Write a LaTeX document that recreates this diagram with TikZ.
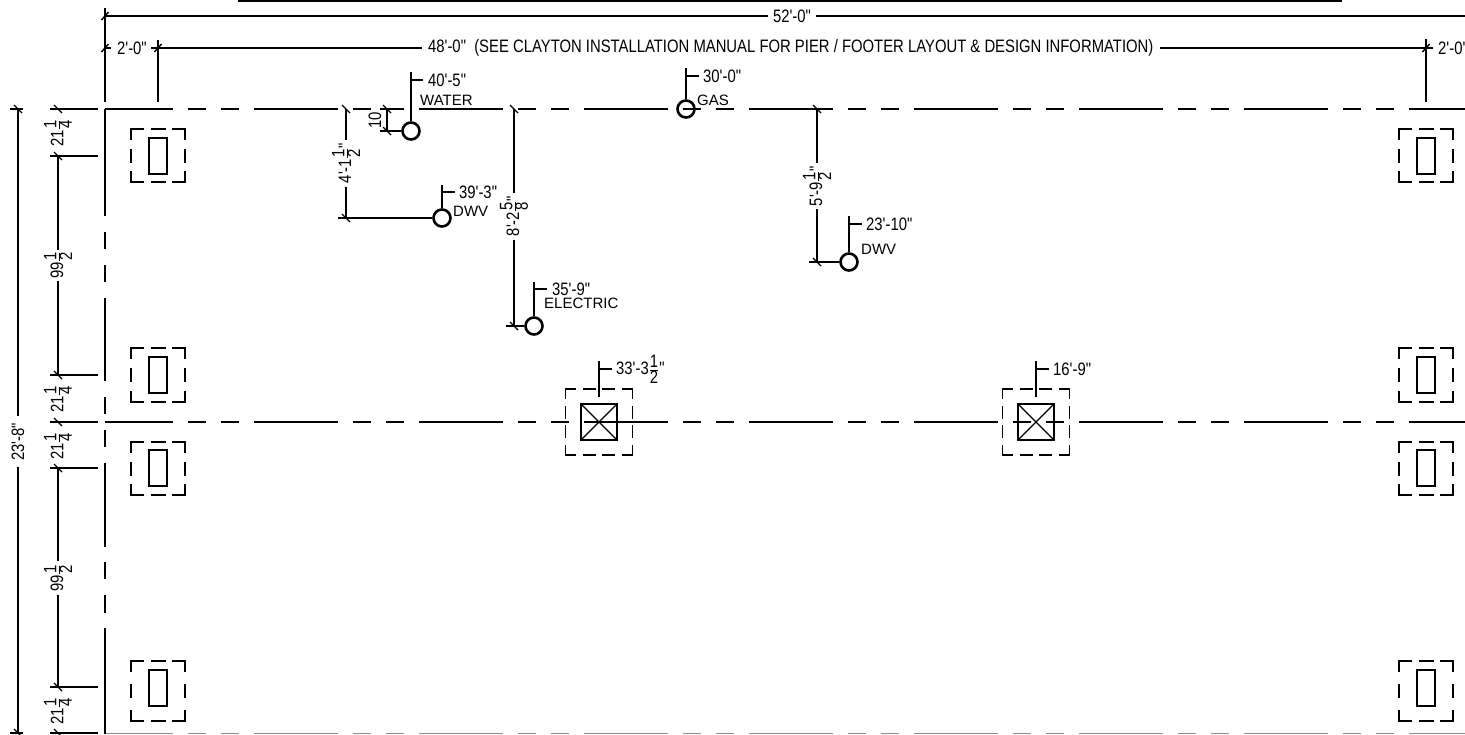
\documentclass[tikz,border=0pt]{standalone}
\usepackage{fontspec}
\setmainfont{Liberation Sans}
\newfontfamily\dimf[FakeStretch=.825]{Liberation Sans}
\newcommand\fr[2]{$\frac{\mbox{#1}}{\mbox{#2}}$}
\tikzset{
  ln/.style={line width=1.7pt,black},
  thin dim/.style={line width=1.5pt,black},
  hidden/.style={line width=2pt,black,dash pattern=on 83.5pt off 15pt on 18pt off 15pt on 18pt off 15.5pt,dash phase=16pt},
  dimtxt/.style={inner sep=0pt,font=\dimf\fontsize{18}{19}\selectfont,anchor=west},
  dimrot/.style={inner sep=0pt,font=\dimf\fontsize{18}{19}\selectfont,rotate=90},
  lab/.style={inner sep=0pt,font=\fontsize{15}{17}\selectfont,anchor=west},
  pipe/.style={circle,draw=black,line width=2.6pt,fill=none,minimum size=17pt,inner sep=0pt},
  pier/.style={line width=1.5pt,black},
}
\newcommand\tickh[2]{\draw[line width=1.4pt] (#1-3.5,#2+4) -- (#1+3.5,#2-4);}
\newcommand\tickv[2]{\draw[line width=1.4pt] (#1-4,#2-4) -- (#1+4,#2+4);}
\newcommand\footing[4]{%
  \pgfmathsetmacro\xa{#1-27}\pgfmathsetmacro\xb{#1+27}
  \pgfmathsetmacro\ym{(#2+#3)/2}
  \draw[pier] (\xa,#2+11) -- (\xa,#2) -- (\xa+13,#2);
  \draw[pier] (\xb-13,#2) -- (\xb,#2) -- (\xb,#2+11);
  \draw[pier] (\xa,#3-11) -- (\xa,#3) -- (\xa+13,#3);
  \draw[pier] (\xb-13,#3) -- (\xb,#3) -- (\xb,#3-11);
  \draw[pier] (#1-7.5,#2) -- (#1+7.5,#2) (#1-7.5,#3) -- (#1+7.5,#3);
  \draw[pier] (\xa,\ym-7) -- (\xa,\ym+7) (\xb,\ym-7) -- (\xb,\ym+7);
  \draw[pier] (#1-9,#4-18) rectangle (#1+9,#4+18);
}
\newcommand\colpad[2]{%
  \draw[pier] (#1-33.5,#2-23) -- (#1-33.5,#2-33) -- (#1-23,#2-33);
  \draw[pier] (#1+23,#2-33) -- (#1+33.5,#2-33) -- (#1+33.5,#2-23);
  \draw[pier] (#1-33.5,#2+23) -- (#1-33.5,#2+33) -- (#1-23,#2+33);
  \draw[pier] (#1+23,#2+33) -- (#1+33.5,#2+33) -- (#1+33.5,#2+23);
  \draw[pier] (#1-16,#2-33) -- (#1-3,#2-33) (#1+3,#2-33) -- (#1+16,#2-33);
  \draw[pier] (#1-16,#2+33) -- (#1-3,#2+33) (#1+3,#2+33) -- (#1+16,#2+33);
  \draw[pier] (#1-33.5,#2-16) -- (#1-33.5,#2-3) (#1-33.5,#2+3) -- (#1-33.5,#2+16);
  \draw[pier] (#1+33.5,#2-16) -- (#1+33.5,#2-3) (#1+33.5,#2+3) -- (#1+33.5,#2+16);
  \draw[line width=1.8pt] (#1-18,#2-18) rectangle (#1+18,#2+18);
  \draw[line width=1.3pt] (#1-18,#2-18) -- (#1+18,#2+18) (#1-18,#2+18) -- (#1+18,#2-18);
}
\begin{document}
\begin{tikzpicture}[x=1pt,y=-1pt]
\useasboundingbox[fill=white] (0,0) rectangle (1465,734);
\draw[line width=2.4pt] (238,0.6) -- (1342,0.6);
\draw[hidden] (105,109) -- (1465,109);
\draw[hidden] (105,422) -- (1465,422);
\draw[line width=1pt,black!45,dash pattern=on 83.5pt off 15pt on 18pt off 15pt on 18pt off 15.5pt,dash phase=16pt] (105,733.5) -- (1465,733.5);
\draw[ln,line width=2pt] (105,109) -- (105,216) (105,232) -- (105,249) (105,265) -- (105,282)
  (105,298) -- (105,381) (105,397) -- (105,414) (105,430) -- (105,447)
  (105,463) -- (105,547) (105,562) -- (105,579) (105,595) -- (105,613) (105,628) -- (105,734);
\foreach \x in {158,1426}{
  \footing{\x}{129}{182}{156}
  \footing{\x}{348}{402}{375}
  \footing{\x}{442}{495}{468}
  \footing{\x}{661}{721}{688}
}
\colpad{599}{422}
\colpad{1036}{422}
\draw[ln] (105,8) -- (105,102);
\draw[ln] (158,40) -- (158,102);
\draw[ln] (1426,39) -- (1426,102);
\node[dimtxt,anchor=center] (d52) at (792,16) {52'-0"};
\draw[ln] (105,16) -- ([xshift=-5pt]d52.west);
\draw[ln] ([xshift=5pt]d52.east) -- (1465,16);
\tickh{105}{16}
\node[dimtxt] (d2a) at (117,48) {2'-0"};
\node[dimtxt] (d48) at (428,48) {48'-0"\ \ (SEE CLAYTON INSTALLATION MANUAL FOR PIER / FOOTER LAYOUT \& DESIGN INFORMATION)};
\node[dimtxt] (d2b) at (1438,48) {2'-0'};
\draw[ln] (105,48) -- (111,48);
\draw[ln] (151,48) -- (422,48);
\draw[ln] (1160,48) -- (1433,48);
\tickh{105}{48}\tickh{158}{48}\tickh{1426}{48}
\foreach \y in {109,156,375,422,468,687,733}{\draw[ln] (50,\y) -- (98,\y);\tickv{58}{\y}}
\draw[ln] (10,109) -- (23,109); \draw[ln] (10,733) -- (23,733);
\tickv{18}{109}\tickv{18}{733}
\node[dimrot] (d23) at (18,442) {23'-8"};
\draw[ln] (18,109) -- (18,416) (18,467) -- (18,733);
\draw[thin dim] (58,156) -- (58,250) (58,281) -- (58,375);
\draw[thin dim] (58,468) -- (58,561) (58,595) -- (58,687);
\node[dimrot] (a1) at (58,133) {21\fr{1}{4}};
\node[dimrot] (a2) at (58,399) {21\fr{1}{4}};
\node[dimrot] (a3) at (58,446) {21\fr{1}{4}};
\node[dimrot] (a4) at (58,711) {21\fr{1}{4}};
\node[dimrot] (b1) at (58,265) {99\fr{1}{2}};
\node[dimrot] (b2) at (58,578) {99\fr{1}{2}};
\node[pipe] (water) at (411,131) {};
\node[pipe] (dwva) at (442,218) {};
\node[pipe] (elec) at (534,326) {};
\node[pipe] (gas) at (686,109) {};
\node[pipe] (dwvb) at (849,262) {};
\draw[ln] (water.north) -- (411,72); \draw[ln] (411,80) -- (423,80);
\node[dimtxt] (t1) at (428,80) {40'-5"};
\node[lab] (w) at (420,100.5) {WATER};
\draw[ln] (380,131) -- (water.west);
\draw[ln] (380,109) -- (388,109);
\draw[thin dim] (387,109) -- (387,131);
\tickv{387}{109}\tickv{387}{131}
\node[dimrot] (d10) at (375,120) {10};
\draw[ln] (dwva.north) -- (442,185); \draw[ln] (442,192) -- (455,192);
\node[dimtxt] (t2) at (459,192) {39'-3"};
\node[lab] (l2) at (453,211) {DWV};
\draw[ln] (338,218) -- (dwva.west);
\draw[thin dim] (346,109) -- (346,140) (346,187) -- (346,218);
\tickv{346}{109}\tickv{346}{218}
\node[dimrot] (d41) at (346,163) {4'-1\fr{1}{2}"};
\draw[ln] (elec.north) -- (534,282); \draw[ln] (534,289) -- (547,289);
\node[dimtxt] (t3) at (552,289) {35'-9"};
\node[lab] (l3) at (544,303) {ELECTRIC};
\draw[ln] (506,326) -- (elec.west);
\draw[thin dim] (514,109) -- (514,193) (514,240) -- (514,326);
\tickv{514}{109}\tickv{514}{326}
\node[dimrot] (d8) at (514,216) {8'-2\fr{5}{8}"};
\draw[ln] (gas.north) -- (686,68); \draw[ln] (686,76) -- (699,76);
\node[dimtxt] (t4) at (703,76) {30'-0"};
\node[lab] (l4) at (697,100) {GAS};
\draw[ln] (dwvb.north) -- (849,216); \draw[ln] (849,224) -- (862,224);
\node[dimtxt] (t5) at (866,224) {23'-10"};
\node[lab] (l5) at (861,249) {DWV};
\draw[ln] (809,262) -- (dwvb.west);
\draw[thin dim] (817,109) -- (817,163) (817,209) -- (817,262);
\tickv{817}{109}\tickv{817}{262}
\node[dimrot] (d5) at (817,186) {5'-9\fr{1}{2}"};
\draw[ln] (599,361) -- (599,397); \draw[ln] (599,369) -- (612,369);
\node[dimtxt] (t6) at (616,369) {33'-3\fr{1}{2}"};
\draw[ln] (1036,361) -- (1036,397); \draw[ln] (1036,369) -- (1049,369);
\node[dimtxt] (t7) at (1053,369) {16'-9"};
\end{tikzpicture}
\end{document}
